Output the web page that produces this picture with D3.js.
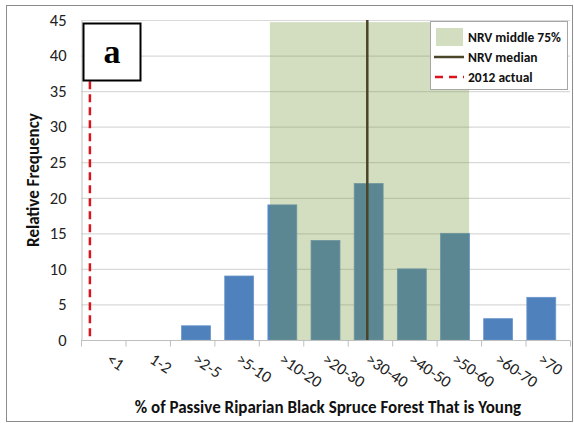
<!DOCTYPE html>
<html><head><meta charset="utf-8">
<script src="https://cdn.jsdelivr.net/npm/d3@7"></script>
<style>body{margin:0;background:#fff}svg{display:block}</style>
</head><body><svg id="c" width="574" height="423"></svg>
<script>
const categories = ["<1","1-2",">2-5",">5-10",">10-20",">20-30",">30-40",">40-50",">50-60",">60-70",">70"];
const frequencies = [0,0,2,9,19,14,22,10,15,3,6];
const yTicks = [0,5,10,15,20,25,30,35,40,45];
// reference positions in category units (0 = left edge of first category)
const nrvRange = [4.25, 8.73];
const nrvRangeTop = 44.7;
const nrvMedian = 6.44;
const actual2012 = 0.2;
const legendItems = ["NRV middle 75%","NRV median","2012 actual"];

const svg = d3.select("#c");
const font = "Carlito, Lato, 'Open Sans', sans-serif";
const m = {l:81, r:570, t:20, b:340};

svg.append("rect").attr("x",6.5).attr("y",5.5).attr("width",566).attr("height",416)
  .attr("fill","#fff").attr("stroke","#8c8c8c").attr("stroke-width",1);

const x = d3.scaleBand().domain(categories).range([m.l,m.r]).padding(0.33);
const xc = d3.scaleLinear().domain([0,categories.length]).range([m.l,m.r]);
const y = d3.scaleLinear().domain([0,45]).range([m.b,m.t]);

// gridlines
svg.append("g").selectAll("line").data(yTicks.filter(d=>d>0)).join("line")
  .attr("x1",m.l).attr("x2",m.r).attr("y1",d=>y(d)+0.5).attr("y2",d=>y(d)+0.5)
  .attr("stroke","#d9d9d9").attr("stroke-width",1.2);

// y axis
const ya = svg.append("g").attr("transform",`translate(${m.l+0.5},0)`)
  .call(d3.axisLeft(y).tickValues(yTicks).tickSize(0).tickPadding(15));
ya.select(".domain").attr("stroke","#bfbfbf");
ya.selectAll("text").attr("font-family",font).attr("font-size",16.5).attr("fill","#222");

// bars
svg.append("g").selectAll("rect").data(frequencies).join("rect")
  .attr("x",(d,i)=>x(categories[i])).attr("width",x.bandwidth())
  .attr("y",d=>y(d)).attr("height",d=>y(0)-y(d))
  .attr("fill","#4f81bd").attr("stroke","#6a96cc").attr("stroke-width",0.8);

// x axis
const xa = svg.append("g").attr("transform",`translate(0,${m.b+0.5})`)
  .call(d3.axisBottom(xc).tickValues(d3.range(categories.length+1)).tickSize(6).tickFormat(""));
xa.selectAll("line").attr("stroke","#bfbfbf");
xa.select(".domain").attr("stroke","#bfbfbf").attr("d",`M${m.l},0H${m.r}`);
xa.selectAll(".tick line").attr("y1",0).attr("y2",6);

// shade
svg.append("rect").attr("x",xc(nrvRange[0])).attr("width",xc(nrvRange[1])-xc(nrvRange[0]))
  .attr("y",y(nrvRangeTop)).attr("height",y(0)-y(nrvRangeTop))
  .attr("fill","rgb(119,150,60)").attr("fill-opacity",0.32);

// median line
svg.append("line").attr("x1",xc(nrvMedian)).attr("x2",xc(nrvMedian))
  .attr("y1",y(45)).attr("y2",y(0)).attr("stroke","#4a4528").attr("stroke-width",2.5);

// 2012 actual
svg.append("line").attr("x1",xc(actual2012)).attr("x2",xc(actual2012))
  .attr("y1",y(36.4)).attr("y2",y(0)).attr("stroke","#d9141c").attr("stroke-width",2.5)
  .attr("stroke-dasharray","8,5");

// x tick labels
svg.append("g").selectAll("text").data(categories).join("text")
  .attr("transform",d=>`translate(${x(d)+x.bandwidth()/2-4},${362}) rotate(34)`)
  .attr("font-family",font).attr("font-size",16.5).attr("fill","#222")
  .text(d=>d);

// axis titles
svg.append("text").attr("transform","translate(39,180) rotate(-90)").attr("text-anchor","middle")
  .attr("font-family",font).attr("font-size",17).attr("font-weight","bold").attr("fill","#111")
  .text("Relative Frequency");
svg.append("text").attr("x",328).attr("y",413).attr("text-anchor","middle")
  .attr("font-family",font).attr("font-size",17).attr("font-weight","bold").attr("fill","#111")
  .text("% of Passive Riparian Black Spruce Forest That is Young");

// panel label
svg.append("rect").attr("x",83.5).attr("y",23.5).attr("width",57).attr("height",57)
  .attr("fill","#fff").attr("stroke","#000").attr("stroke-width",2);
svg.append("text").attr("x",112).attr("y",63).attr("text-anchor","middle")
  .attr("font-family","'Liberation Serif','DejaVu Serif',serif").attr("font-size",34)
  .attr("font-weight","bold").text("a");

// legend
const lg = svg.append("g");
lg.append("rect").attr("x",430.5).attr("y",21.5).attr("width",137).attr("height",68)
  .attr("fill","#fff").attr("stroke","#a6a6a6").attr("stroke-width",1);
lg.append("rect").attr("x",436).attr("y",28).attr("width",27).attr("height",18)
  .attr("fill","rgb(119,150,60)").attr("fill-opacity",0.32);
lg.append("line").attr("x1",434).attr("x2",464).attr("y1",57).attr("y2",57)
  .attr("stroke","#4a4528").attr("stroke-width",2.5);
lg.append("line").attr("x1",435).attr("x2",464).attr("y1",77).attr("y2",77)
  .attr("stroke","#d9141c").attr("stroke-width",2.5).attr("stroke-dasharray","8,6");
lg.selectAll("text.l").data(legendItems).join("text").attr("class","l")
  .attr("x",468).attr("y",(d,i)=>42+i*20)
  .attr("font-family",font).attr("font-size",13.5).attr("font-weight","bold").attr("fill","#111")
  .text(d=>d);
</script></body></html>
